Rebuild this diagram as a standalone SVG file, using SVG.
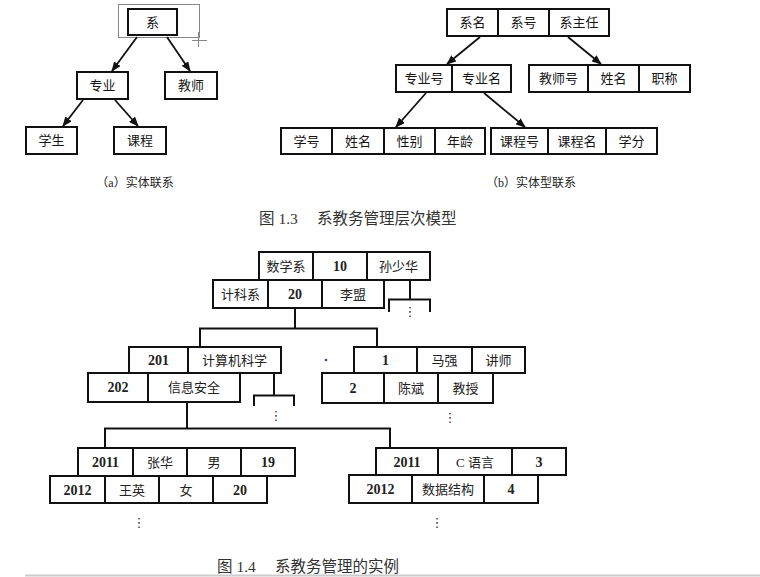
<svg xmlns="http://www.w3.org/2000/svg" width="760" height="577" viewBox="0 0 760 577">
<defs>
<marker id="ah" markerUnits="userSpaceOnUse" markerWidth="10" markerHeight="8" refX="9" refY="4" orient="auto">
<path d="M0,0 L10,4 L0,8 Z" fill="#111"/>
</marker>
</defs>
<style>
.bx{fill:#fff;stroke:#111;stroke-width:2}
.dv{stroke:#111;stroke-width:2}
.ln{fill:none;stroke:#111;stroke-width:2}
.ar{fill:none;stroke:#111;stroke-width:1.8;marker-end:url(#ah)}
.t{font-family:"Noto Sans CJK SC","Noto Sans",sans-serif;font-size:13px;fill:#151515;text-anchor:middle}
.s{font-family:"Liberation Serif","Noto Sans CJK SC",serif;font-size:13px;fill:#222;text-anchor:middle}
.n{font-family:"Liberation Serif",serif;font-size:14px;font-weight:bold;fill:#222;text-anchor:middle}
.cap{font-family:"Liberation Serif","Noto Sans CJK SC",serif;font-size:15.5px;fill:#333}
.sub{font-family:"Liberation Serif","Noto Sans CJK SC",serif;font-size:12px;fill:#222;text-anchor:middle}
.dot{font-family:"DejaVu Sans",sans-serif;font-size:13px;fill:#333;text-anchor:middle}
</style>
<rect width="760" height="577" fill="#fff"/>

<!-- selection artifact -->
<g fill="none" stroke="#888" stroke-width="1">
<rect x="118.5" y="4.5" width="81" height="33"/>
<path d="M192 40.5 H207 M198.5 32 V47"/>
</g>

<!-- (a) -->
<g id="a-xi"><rect class="bx" x="128" y="9" width="49" height="26"/><text class="t" x="152.5" y="26.5">系</text></g>
<g id="a-zhuanye"><rect class="bx" x="77" y="72" width="51" height="27"/><text class="t" x="102.5" y="90">专业</text></g>
<g id="a-jiaoshi"><rect class="bx" x="165" y="72" width="52" height="27"/><text class="t" x="191" y="90">教师</text></g>
<g id="a-xuesheng"><rect class="bx" x="26" y="127" width="51" height="27"/><text class="t" x="51.5" y="145">学生</text></g>
<g id="a-kecheng"><rect class="bx" x="114" y="127" width="52" height="27"/><text class="t" x="140" y="145">课程</text></g>
<text class="sub" x="135" y="187">（a）实体联系</text>

<!-- (b) -->
<g id="b-xi">
<rect class="bx" x="447" y="9" width="162" height="27"/>
<path class="dv" d="M498 9 V36 M549 9 V36"/>
<text class="t" x="472.5" y="27">系名</text><text class="t" x="523.5" y="27">系号</text><text class="t" x="579" y="27">系主任</text>
</g>
<g id="b-zhuanye">
<rect class="bx" x="396" y="65" width="115" height="27"/>
<path class="dv" d="M452 65 V92"/>
<text class="t" x="424" y="83">专业号</text><text class="t" x="481.5" y="83">专业名</text>
</g>
<g id="b-jiaoshi">
<rect class="bx" x="529" y="65" width="161" height="27"/>
<path class="dv" d="M588 65 V92 M639 65 V92"/>
<text class="t" x="558.5" y="83">教师号</text><text class="t" x="613.5" y="83">姓名</text><text class="t" x="664.5" y="83">职称</text>
</g>
<g id="b-xuesheng">
<rect class="bx" x="281" y="128" width="204" height="26"/>
<path class="dv" d="M332 128 V154 M384 128 V154 M435 128 V154"/>
<text class="t" x="306.5" y="145.5">学号</text><text class="t" x="358" y="145.5">姓名</text><text class="t" x="409.5" y="145.5">性别</text><text class="t" x="460" y="145.5">年龄</text>
</g>
<g id="b-kecheng">
<rect class="bx" x="491" y="128" width="166" height="26"/>
<path class="dv" d="M548 128 V154 M606 128 V154"/>
<text class="t" x="519.5" y="145.5">课程号</text><text class="t" x="577" y="145.5">课程名</text><text class="t" x="631.5" y="145.5">学分</text>
</g>
<text class="sub" x="531" y="187">（b）实体型联系</text>

<g id="connectors-top">
<path class="ar" d="M137 37 L112 71"/>
<path class="ar" d="M167 37 L190 71"/>
<path class="ar" d="M83 100 L63 126"/>
<path class="ar" d="M115 100 L138 126"/>
<path class="ar" d="M480 37 L447 64"/>
<path class="ar" d="M568 37 L601 64"/>
<path class="ar" d="M426 93 L396 127"/>
<path class="ar" d="M484 93 L525 127"/>
</g>

<text class="cap" x="259" y="224">图 1.3</text>
<text class="cap" x="317" y="224">系教务管理层次模型</text>

<!-- Figure 1.4 connectors -->
<g id="connectors-bottom">
<path class="ln" d="M295 308 V328.5 M200 347 V328.5 H377 V347"/>
<path class="ln" d="M410 280 V299.5 M389 312 V299.5 H430 V312"/>
<path class="ln" d="M187 402 V428.5 M105 448 V428.5 H390 V448"/>
<path class="ln" d="M274 373 V395.5 M254 406 V395.5 H294 V406"/>
</g>

<g id="r-shuxue">
<rect class="bx" x="259" y="252" width="171" height="28"/>
<path class="dv" d="M313 252 V280 M367 252 V280"/>
<text class="s" x="286" y="271">数学系</text><text class="n" x="340" y="271">10</text><text class="s" x="398.5" y="271">孙少华</text>
</g>
<g id="r-jike">
<rect class="bx" x="213" y="280" width="171" height="28"/>
<path class="dv" d="M268 280 V308 M322 280 V308"/>
<text class="s" x="240.5" y="299">计科系</text><text class="n" x="295" y="299">20</text><text class="s" x="353" y="299">李盟</text>
</g>
<text class="dot" x="410" y="316">⋮</text>

<g id="r-201">
<rect class="bx" x="129" y="347" width="152" height="26"/>
<path class="dv" d="M188 347 V373"/>
<text class="n" x="158.5" y="365">201</text><text class="s" x="234.5" y="365">计算机科学</text>
</g>
<g id="r-202">
<rect class="bx" x="88" y="373" width="152" height="29"/>
<path class="dv" d="M148 373 V402"/>
<text class="n" x="118" y="392">202</text><text class="s" x="194" y="392">信息安全</text>
</g>
<text class="dot" x="276" y="420">⋮</text>

<circle cx="326" cy="360" r="1.3" fill="#3344aa"/>
<g id="r-t1">
<rect class="bx" x="354" y="347" width="171" height="26"/>
<path class="dv" d="M417 347 V373 M472 347 V373"/>
<text class="n" x="385.5" y="365">1</text><text class="s" x="444.5" y="365">马强</text><text class="s" x="498.5" y="365">讲师</text>
</g>
<g id="r-t2">
<rect class="bx" x="322" y="373" width="171" height="30"/>
<path class="dv" d="M384 373 V403 M438 373 V403"/>
<text class="n" x="353" y="393">2</text><text class="s" x="411" y="393">陈斌</text><text class="s" x="465.5" y="393">教授</text>
</g>
<text class="dot" x="450" y="422">⋮</text>

<g id="r-s1">
<rect class="bx" x="78" y="448" width="217" height="28"/>
<path class="dv" d="M133 448 V476 M187 448 V476 M241 448 V476"/>
<text class="n" x="105.5" y="467">2011</text><text class="s" x="160" y="467">张华</text><text class="s" x="214" y="467">男</text><text class="n" x="268" y="467">19</text>
</g>
<g id="r-s2">
<rect class="bx" x="50" y="476" width="217" height="27"/>
<path class="dv" d="M105 476 V503 M159 476 V503 M213 476 V503"/>
<text class="n" x="77.5" y="494.5">2012</text><text class="s" x="132" y="494.5">王英</text><text class="s" x="186" y="494.5">女</text><text class="n" x="240" y="494.5">20</text>
</g>
<text class="dot" x="139" y="527">⋮</text>

<g id="r-c1">
<rect class="bx" x="376" y="448" width="190" height="27"/>
<path class="dv" d="M438 448 V475 M512 448 V475"/>
<text class="n" x="407" y="466.5">2011</text><text class="s" x="475" y="466.5">C 语言</text><text class="n" x="539" y="466.5">3</text>
</g>
<g id="r-c2">
<rect class="bx" x="349" y="475" width="189" height="28"/>
<path class="dv" d="M412 475 V503 M484 475 V503"/>
<text class="n" x="380.5" y="494">2012</text><text class="s" x="448" y="494">数据结构</text><text class="n" x="511" y="494">4</text>
</g>
<text class="dot" x="437" y="527">⋮</text>

<text class="cap" x="217" y="572">图 1.4</text>
<text class="cap" x="275" y="572">系教务管理的实例</text>
<line x1="25" y1="575.5" x2="760" y2="575.5" stroke="#ccc" stroke-width="2"/>
</svg>
